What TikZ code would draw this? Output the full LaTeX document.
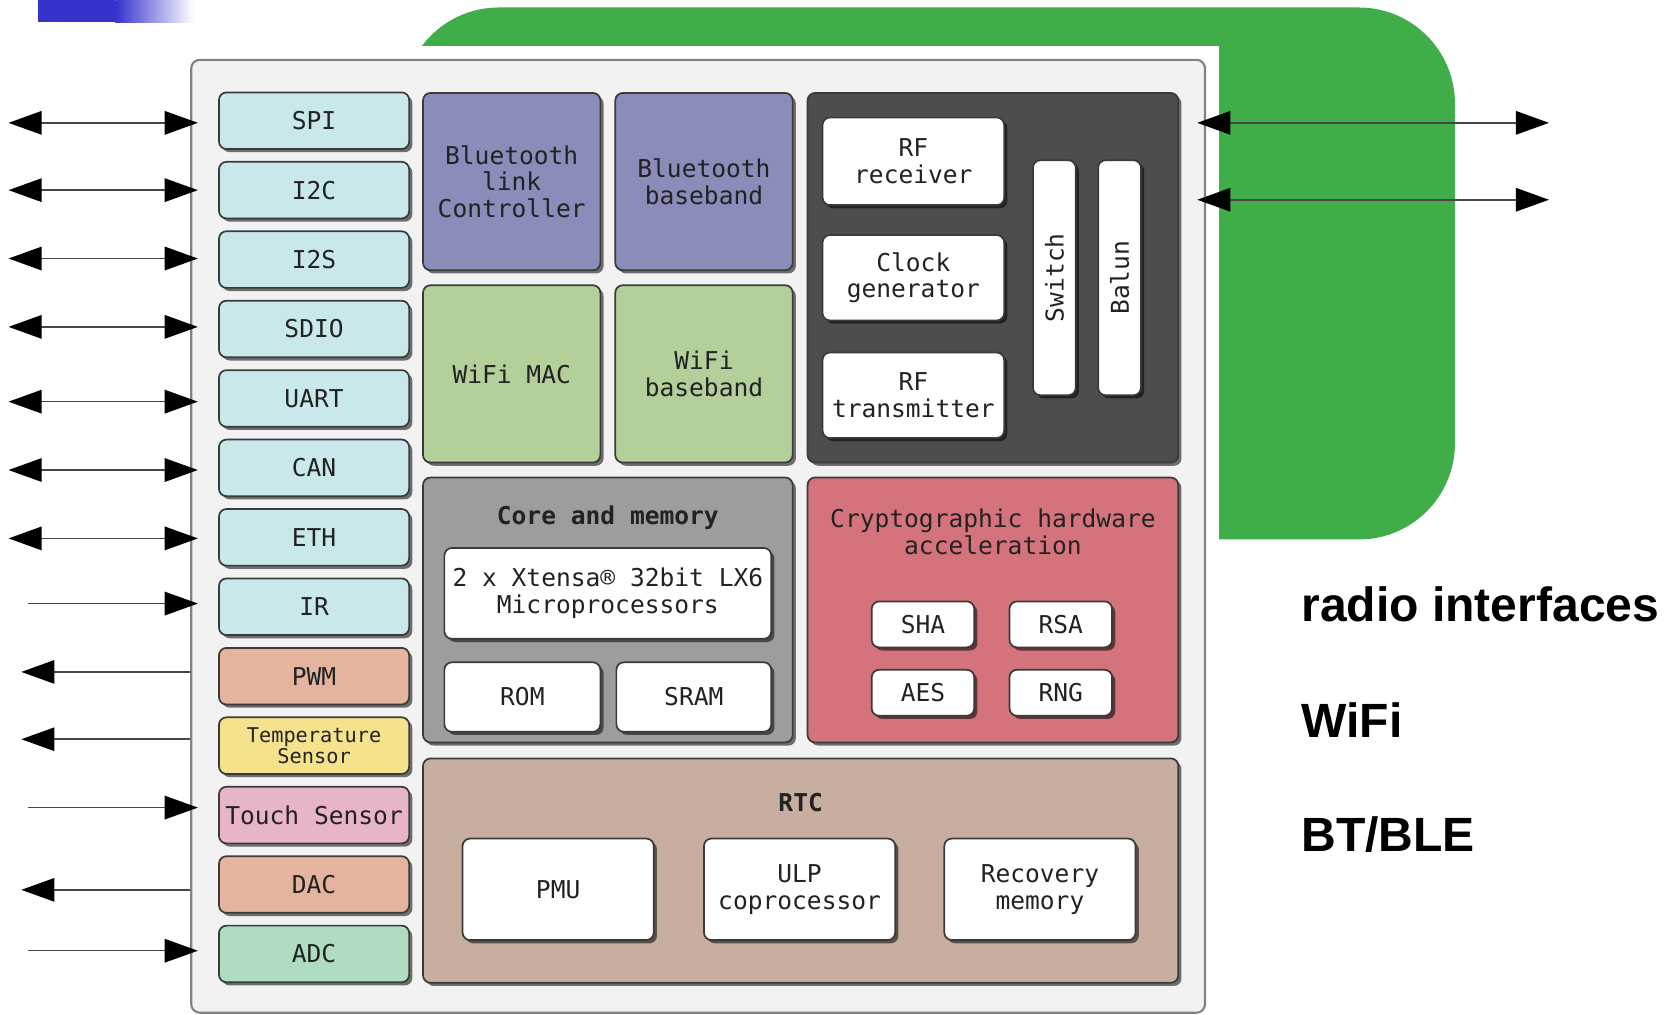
\documentclass[tikz,border=0pt]{standalone}
\usepackage{fontspec}
\setmainfont{Liberation Sans}
\newfontfamily\boxfont{DejaVu Sans Mono}
\usetikzlibrary{arrows.meta,shadows}
\definecolor{blueA}{RGB}{54,50,204}
\definecolor{greenA}{RGB}{63,174,73}
\definecolor{chipbg}{RGB}{242,242,242}
\definecolor{chipedge}{RGB}{130,130,130}
\definecolor{edge}{RGB}{58,58,58}
\definecolor{ink}{RGB}{34,34,34}
\definecolor{ln}{RGB}{70,70,70}
\definecolor{cyanA}{RGB}{200,232,236}
\definecolor{salmonA}{RGB}{228,180,158}
\definecolor{yellowA}{RGB}{244,226,140}
\definecolor{pinkA}{RGB}{232,180,202}
\definecolor{mintA}{RGB}{176,220,192}
\definecolor{btA}{RGB}{138,140,186}
\definecolor{wifiA}{RGB}{180,208,154}
\definecolor{darkA}{RGB}{77,77,77}
\definecolor{coreA}{RGB}{156,158,156}
\definecolor{cryA}{RGB}{212,115,123}
\definecolor{rtcA}{RGB}{200,174,160}
\tikzset{
  blk/.style={draw=edge, line width=1.6pt, rounded corners=7pt, inner sep=0pt, align=center, text=ink,
    font=\boxfont\fontsize{23}{25}\selectfont,
    drop shadow={shadow xshift=3pt, shadow yshift=-3pt, opacity=0.55, fill=black}},
  io/.style={blk, minimum width=178pt, minimum height=53pt, fill=#1},
  big/.style={blk, fill=#1},
  wbox/.style={blk, fill=white},
  conn/.style={draw=ln, line width=1.4pt},
  title/.style={font=\boxfont\bfseries\fontsize{23}{25}\selectfont, text=ink, inner sep=0pt, align=center},
  sub/.style={font=\boxfont\fontsize{23}{25}\selectfont, text=ink, inner sep=0pt, align=center},
  side/.style={font=\bfseries\fontsize{45}{50}\selectfont, anchor=base west, inner sep=0pt}
}
\begin{document}
\begin{tikzpicture}[x=1pt,y=-1pt,>={Triangle[length=31pt,width=22pt,color=black]}]
\useasboundingbox (0,0) rectangle (1568,950);
% top-left bar
\fill[blueA] (36,0) rectangle (108,21);
\shade[left color=blueA, right color=white] (108,0) rectangle (181,21);
% green radio area
\fill[greenA, rounded corners=90pt] (377,7) rectangle (1362,505);
\fill[white] (300,43) rectangle (1141,960);
% chip container
\node[draw=chipedge, fill=chipbg, line width=2pt, rounded corners=8pt, minimum width=949pt, minimum height=892pt, inner sep=0pt] (chip) at (653.5,502) {};
% peripherals
\node[io=cyanA] (spi) at (294,113) {SPI};
\node[io=cyanA] (i2c) at (294,178) {I2C};
\node[io=cyanA] (i2s) at (294,243) {I2S};
\node[io=cyanA] (sdio) at (294,308) {SDIO};
\node[io=cyanA] (uart) at (294,373) {UART};
\node[io=cyanA] (can) at (294,438) {CAN};
\node[io=cyanA] (eth) at (294,503) {ETH};
\node[io=cyanA] (ir) at (294,568) {IR};
\node[io=salmonA] (pwm) at (294,633) {PWM};
\node[io=yellowA, font=\boxfont\fontsize{19}{19}\selectfont] (temp) at (294,698) {Temperature\\Sensor};
\node[io=pinkA] (touch) at (294,763) {Touch Sensor};
\node[io=salmonA] (dac) at (294,828) {DAC};
\node[io=mintA] (adc) at (294,893) {ADC};
% bluetooth / wifi
\node[big=btA, minimum width=166pt, minimum height=166pt] (btlc) at (479,170) {Bluetooth\\link\\Controller};
\node[big=btA, minimum width=166pt, minimum height=166pt] (btbb) at (659,170) {Bluetooth\\baseband};
\node[big=wifiA, minimum width=166pt, minimum height=166pt] (wmac) at (479,350) {WiFi MAC};
\node[big=wifiA, minimum width=166pt, minimum height=166pt] (wbb) at (659,350) {WiFi\\baseband};
% RF block
\node[big=darkA, minimum width=347pt, minimum height=346pt] (rf) at (929.5,260) {};
\node[wbox, minimum width=170pt, minimum height=82pt] (rfrx) at (855,151) {RF\\receiver};
\node[wbox, minimum width=170pt, minimum height=80pt] (clk) at (855,260) {Clock\\generator};
\node[wbox, minimum width=170pt, minimum height=80pt] (rftx) at (855,370) {RF\\transmitter};
\node[wbox, minimum width=40pt, minimum height=220pt, label={[sub, rotate=90]center:Switch}] (sw) at (987,260) {};
\node[wbox, minimum width=40pt, minimum height=220pt, label={[sub, rotate=90]center:Balun}] (balun) at (1048,260) {};
% core and memory
\node[big=coreA, minimum width=346pt, minimum height=248pt] (core) at (569,571) {};
\node[title] (coret) at (569,485) {Core and memory};
\node[wbox, minimum width=306pt, minimum height=85pt] (cpu) at (569,555.5) {2 x Xtensa® 32bit LX6\\Microprocessors};
\node[wbox, minimum width=146pt, minimum height=65pt] (rom) at (489,652.5) {ROM};
\node[wbox, minimum width=145pt, minimum height=65pt] (sram) at (649.5,652.5) {SRAM};
% crypto
\node[big=cryA, minimum width=347pt, minimum height=248pt] (crypto) at (929.5,571) {};
\node[sub] (cryt) at (929.5,498) {Cryptographic hardware\\acceleration};
\node[wbox, minimum width=96pt, minimum height=43pt] (sha) at (864,584.5) {SHA};
\node[wbox, minimum width=96pt, minimum height=43pt] (rsa) at (993,584.5) {RSA};
\node[wbox, minimum width=96pt, minimum height=43pt] (aes) at (864,648.5) {AES};
\node[wbox, minimum width=96pt, minimum height=43pt] (rng) at (993,648.5) {RNG};
% RTC
\node[big=rtcA, minimum width=707pt, minimum height=210pt] (rtc) at (749.5,815) {};
\node[title] (rtct) at (749.5,751) {RTC};
\node[wbox, minimum width=179pt, minimum height=95pt] (pmu) at (522.5,832.5) {PMU};
\node[wbox, minimum width=179pt, minimum height=95pt] (ulp) at (748.5,832.5) {ULP\\coprocessor};
\node[wbox, minimum width=179pt, minimum height=95pt] (rec) at (973.5,832.5) {Recovery\\memory};
% left connectors
\coordinate (aspi) at (8,115);
\coordinate (ai2c) at (8,178);
\coordinate (ai2s) at (8,242);
\coordinate (asdio) at (8,306);
\coordinate (auart) at (8,376);
\coordinate (acan) at (8,440);
\coordinate (aeth) at (8,504);
\coordinate (air) at (26,565);
\coordinate (apwm) at (20,629);
\coordinate (atemp) at (20,692);
\coordinate (atouch) at (26,756);
\coordinate (adac) at (20,833);
\coordinate (aadc) at (26,890);
\draw[conn,<->,shorten >=19pt] (aspi) -- (aspi -| spi.west);
\draw[conn,<->,shorten >=19pt] (ai2c) -- (ai2c -| i2c.west);
\draw[conn,<->,shorten >=19pt] (ai2s) -- (ai2s -| i2s.west);
\draw[conn,<->,shorten >=19pt] (asdio) -- (asdio -| sdio.west);
\draw[conn,<->,shorten >=19pt] (auart) -- (auart -| uart.west);
\draw[conn,<->,shorten >=19pt] (acan) -- (acan -| can.west);
\draw[conn,<->,shorten >=19pt] (aeth) -- (aeth -| eth.west);
\draw[conn,->,shorten >=19pt] (air) -- (air -| ir.west);
\draw[conn,->] (apwm -| chip.west) -- (apwm);
\draw[conn,->] (atemp -| chip.west) -- (atemp);
\draw[conn,->,shorten >=19pt] (atouch) -- (atouch -| touch.west);
\draw[conn,->] (adac -| chip.west) -- (adac);
\draw[conn,->,shorten >=19pt] (aadc) -- (aadc -| adc.west);
% right connectors
\coordinate (rA) at (1450,115);
\coordinate (rB) at (1450,187);
\draw[conn,<->,shorten <=17pt] (rf.east |- rA) -- (rA);
\draw[conn,<->,shorten <=17pt] (rf.east |- rB) -- (rB);
% side labels
\node[side] (lradio) at (1218,582) {radio interfaces};
\node[side] (lwifi) at (1218,690) {WiFi};
\node[side] (lbt) at (1218,797) {BT/BLE};
\end{tikzpicture}
\end{document}
